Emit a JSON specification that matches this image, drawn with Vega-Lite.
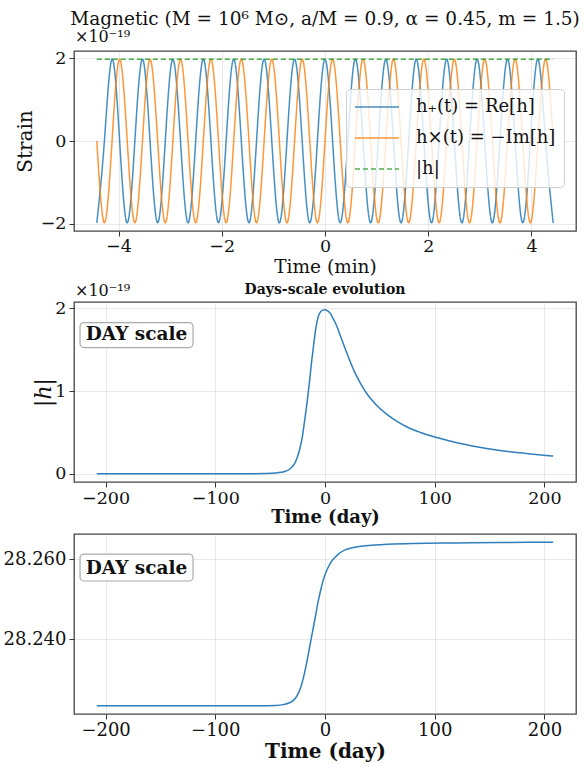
{
  "$schema": "https://vega.github.io/schema/vega-lite/v6.json",
  "background": "white",
  "padding": {"left": 2, "right": 5, "top": 8, "bottom": 2},
  "spacing": 5,
  "config": {
    "font": "DejaVu Serif",
    "view": {"stroke": "#444", "strokeWidth": 1.3},
    "axis": {
      "domain": false,
      "grid": true,
      "gridColor": "#b0b0b0",
      "gridOpacity": 0.35,
      "gridWidth": 0.8,
      "tickColor": "#333",
      "tickSize": 5,
      "tickWidth": 1,
      "labelFont": "DejaVu Serif",
      "titleFont": "DejaVu Serif",
      "labelColor": "#111",
      "titleColor": "#111",
      "titleFontWeight": "normal",
      "labelFlush": false,
      "labelOverlap": false
    },
    "title": {"font": "DejaVu Serif", "color": "#111"}
  },
  "datasets": {
    "wave": [
      {"t": -4.42, "hp": -1.98, "hx": 0},
      {"t": -4.273, "hp": 0, "hx": -1.98},
      {"t": -4.125, "hp": 1.98, "hx": 0},
      {"t": -3.978, "hp": 0, "hx": 1.98},
      {"t": -3.831, "hp": -1.98, "hx": 0},
      {"t": -3.683, "hp": 0, "hx": -1.98},
      {"t": -3.536, "hp": 1.98, "hx": 0},
      {"t": -3.389, "hp": 0, "hx": 1.98},
      {"t": -3.241, "hp": -1.98, "hx": 0},
      {"t": -3.094, "hp": 0, "hx": -1.98},
      {"t": -2.947, "hp": 1.98, "hx": 0},
      {"t": -2.799, "hp": 0, "hx": 1.98},
      {"t": -2.652, "hp": -1.98, "hx": 0},
      {"t": -2.505, "hp": 0, "hx": -1.98},
      {"t": -2.357, "hp": 1.98, "hx": 0},
      {"t": -2.21, "hp": 0, "hx": 1.98},
      {"t": -2.063, "hp": -1.98, "hx": 0},
      {"t": -1.915, "hp": 0, "hx": -1.98},
      {"t": -1.768, "hp": 1.98, "hx": 0},
      {"t": -1.621, "hp": 0, "hx": 1.98},
      {"t": -1.473, "hp": -1.98, "hx": 0},
      {"t": -1.326, "hp": 0, "hx": -1.98},
      {"t": -1.179, "hp": 1.98, "hx": 0},
      {"t": -1.031, "hp": 0, "hx": 1.98},
      {"t": -0.884, "hp": -1.98, "hx": 0},
      {"t": -0.737, "hp": 0, "hx": -1.98},
      {"t": -0.589, "hp": 1.98, "hx": 0},
      {"t": -0.442, "hp": 0, "hx": 1.98},
      {"t": -0.295, "hp": -1.98, "hx": 0},
      {"t": -0.147, "hp": 0, "hx": -1.98},
      {"t": 0, "hp": 1.98, "hx": 0},
      {"t": 0.147, "hp": 0, "hx": 1.98},
      {"t": 0.295, "hp": -1.98, "hx": 0},
      {"t": 0.442, "hp": 0, "hx": -1.98},
      {"t": 0.589, "hp": 1.98, "hx": 0},
      {"t": 0.737, "hp": 0, "hx": 1.98},
      {"t": 0.884, "hp": -1.98, "hx": 0},
      {"t": 1.031, "hp": 0, "hx": -1.98},
      {"t": 1.179, "hp": 1.98, "hx": 0},
      {"t": 1.326, "hp": 0, "hx": 1.98},
      {"t": 1.473, "hp": -1.98, "hx": 0},
      {"t": 1.621, "hp": 0, "hx": -1.98},
      {"t": 1.768, "hp": 1.98, "hx": 0},
      {"t": 1.915, "hp": 0, "hx": 1.98},
      {"t": 2.063, "hp": -1.98, "hx": 0},
      {"t": 2.21, "hp": 0, "hx": -1.98},
      {"t": 2.357, "hp": 1.98, "hx": 0},
      {"t": 2.505, "hp": 0, "hx": 1.98},
      {"t": 2.652, "hp": -1.98, "hx": 0},
      {"t": 2.799, "hp": 0, "hx": -1.98},
      {"t": 2.947, "hp": 1.98, "hx": 0},
      {"t": 3.094, "hp": 0, "hx": 1.98},
      {"t": 3.241, "hp": -1.98, "hx": 0},
      {"t": 3.389, "hp": 0, "hx": -1.98},
      {"t": 3.536, "hp": 1.98, "hx": 0},
      {"t": 3.683, "hp": 0, "hx": 1.98},
      {"t": 3.831, "hp": -1.98, "hx": 0},
      {"t": 3.978, "hp": 0, "hx": -1.98},
      {"t": 4.125, "hp": 1.98, "hx": 0},
      {"t": 4.273, "hp": 0, "hx": 1.98},
      {"t": 4.42, "hp": -1.98, "hx": 0}
    ],
    "envelope": [
      {"t": -4.42, "a": 1.98},
      {"t": 4.42, "a": 1.98}
    ],
    "days": [
      {"t": -208, "h": 0},
      {"t": -150, "h": 0},
      {"t": -100, "h": 0},
      {"t": -70, "h": 0.001},
      {"t": -55, "h": 0.004},
      {"t": -45, "h": 0.01},
      {"t": -40, "h": 0.018},
      {"t": -35, "h": 0.035},
      {"t": -31, "h": 0.07},
      {"t": -27.5, "h": 0.13},
      {"t": -25, "h": 0.21},
      {"t": -23, "h": 0.3},
      {"t": -20.5, "h": 0.46},
      {"t": -18.5, "h": 0.65},
      {"t": -16, "h": 0.9},
      {"t": -14, "h": 1.13},
      {"t": -12, "h": 1.38},
      {"t": -10, "h": 1.6},
      {"t": -8, "h": 1.79},
      {"t": -6, "h": 1.91},
      {"t": -4, "h": 1.96},
      {"t": -2, "h": 1.98},
      {"t": 0, "h": 1.985},
      {"t": 2, "h": 1.975},
      {"t": 4.3, "h": 1.95},
      {"t": 7, "h": 1.89},
      {"t": 10.3, "h": 1.8},
      {"t": 14, "h": 1.67},
      {"t": 17.9, "h": 1.53},
      {"t": 22, "h": 1.39},
      {"t": 27, "h": 1.23},
      {"t": 33, "h": 1.08},
      {"t": 39.2, "h": 0.95},
      {"t": 47, "h": 0.83},
      {"t": 57.4, "h": 0.71},
      {"t": 66, "h": 0.63},
      {"t": 75.7, "h": 0.56},
      {"t": 87, "h": 0.5},
      {"t": 100, "h": 0.445},
      {"t": 113, "h": 0.4},
      {"t": 127, "h": 0.357},
      {"t": 142, "h": 0.318},
      {"t": 158, "h": 0.284},
      {"t": 175, "h": 0.257},
      {"t": 192, "h": 0.235},
      {"t": 208, "h": 0.215}
    ],
    "phase": [
      {"t": -208, "p": 28.2233},
      {"t": -100, "p": 28.2233},
      {"t": -60, "p": 28.2233},
      {"t": -45, "p": 28.2234},
      {"t": -38, "p": 28.2236},
      {"t": -33, "p": 28.224},
      {"t": -30, "p": 28.2244},
      {"t": -27, "p": 28.2252},
      {"t": -24.6, "p": 28.2263},
      {"t": -22, "p": 28.228},
      {"t": -20, "p": 28.23},
      {"t": -17.5, "p": 28.233},
      {"t": -15.5, "p": 28.2358},
      {"t": -13, "p": 28.2395},
      {"t": -10.9, "p": 28.2425},
      {"t": -8.5, "p": 28.246},
      {"t": -6.4, "p": 28.2492},
      {"t": -4, "p": 28.2522},
      {"t": -1.8, "p": 28.2546},
      {"t": 0.5, "p": 28.2565},
      {"t": 2.7, "p": 28.2579},
      {"t": 5.5, "p": 28.2593},
      {"t": 8.8, "p": 28.2604},
      {"t": 13, "p": 28.2615},
      {"t": 17.9, "p": 28.2623},
      {"t": 25, "p": 28.2629},
      {"t": 33, "p": 28.2633},
      {"t": 45, "p": 28.2636},
      {"t": 57, "p": 28.2638},
      {"t": 80, "p": 28.264},
      {"t": 120, "p": 28.2641},
      {"t": 160, "p": 28.2642},
      {"t": 208, "p": 28.2643}
    ],
    "labels": [
      {"offset": "×10⁻¹⁹", "box": "DAY scale"}
    ]
  },
  "vconcat": [
    {
      "width": 502,
      "height": 180,
      "title": {
        "text": "Magnetic (M = 10⁶ M⊙, a/M = 0.9, α = 0.45, m = 1.5)",
        "fontSize": 18.5,
        "fontWeight": "normal",
        "frame": "group",
        "anchor": "middle",
        "offset": 1
      },
      "layer": [
        {
          "data": {"name": "wave"},
          "mark": {"type": "line", "interpolate": "natural", "strokeWidth": 1.5, "opacity": 0.82, "clip": true},
          "encoding": {
            "x": {
              "field": "t", "type": "quantitative",
              "scale": {"domain": [-4.862, 4.862], "nice": false, "zero": false},
              "axis": {"values": [-4, -2, 0, 2, 4], "title": "Time (min)", "labelFontSize": 17.5, "titleFontSize": 18.5, "labelPadding": 1, "titlePadding": 3}
            },
            "y": {
              "field": "hp", "type": "quantitative",
              "scale": {"domain": [-2.178, 2.178], "nice": false, "zero": false},
              "axis": {"values": [-2, 0, 2], "title": "Strain", "labelFontSize": 17.5, "titleFontSize": 20, "labelPadding": 3, "titlePadding": 5}
            },
            "color": {
              "datum": "h₊(t) = Re[h]", "type": "nominal",
              "scale": {"domain": ["h₊(t) = Re[h]", "h×(t) = −Im[h]", "|h|"], "range": ["#1f77b4", "#ff7f0e", "#2ca02c"]},
              "legend": {"orient": "none", "legendX": 272, "legendY": 38, "title": null, "symbolType": "stroke", "symbolSize": 1936, "clipHeight": 20, "symbolStrokeWidth": 1.5, "symbolOpacity": 0.85, "labelFont": "DejaVu Serif", "labelFontSize": 18, "labelColor": "#111", "labelOffset": 16, "padding": 8, "rowPadding": 11, "fillColor": "rgba(255,255,255,0.8)", "strokeColor": "#d0d0d0", "cornerRadius": 4}
            },
            "strokeDash": {
              "datum": "h₊(t) = Re[h]", "type": "nominal",
              "scale": {"domain": ["h₊(t) = Re[h]", "h×(t) = −Im[h]", "|h|"], "range": [[1, 0], [1, 0], [5, 3]]},
              "legend": {"orient": "none", "legendX": 272, "legendY": 38, "title": null, "symbolType": "stroke", "symbolSize": 1936, "clipHeight": 20, "symbolStrokeWidth": 1.5, "symbolOpacity": 0.85, "labelFont": "DejaVu Serif", "labelFontSize": 18, "labelColor": "#111", "labelOffset": 16, "padding": 8, "rowPadding": 11, "fillColor": "rgba(255,255,255,0.8)", "strokeColor": "#d0d0d0", "cornerRadius": 4}
            }
          }
        },
        {
          "data": {"name": "wave"},
          "mark": {"type": "line", "interpolate": "natural", "strokeWidth": 1.5, "opacity": 0.82, "clip": true},
          "encoding": {
            "x": {"field": "t", "type": "quantitative"},
            "y": {"field": "hx", "type": "quantitative"},
            "color": {"datum": "h×(t) = −Im[h]", "type": "nominal"},
            "strokeDash": {"datum": "h×(t) = −Im[h]", "type": "nominal"}
          }
        },
        {
          "data": {"name": "envelope"},
          "mark": {"type": "line", "strokeWidth": 1.5, "opacity": 0.85},
          "encoding": {
            "x": {"field": "t", "type": "quantitative"},
            "y": {"field": "a", "type": "quantitative"},
            "color": {"datum": "|h|", "type": "nominal"},
            "strokeDash": {"datum": "|h|", "type": "nominal"}
          }
        },
        {
          "data": {"name": "labels"},
          "mark": {"type": "text", "align": "left", "baseline": "alphabetic", "fontSize": 16, "dx": 1, "dy": -9, "color": "#111"},
          "encoding": {
            "x": {"datum": -4.862, "type": "quantitative"},
            "y": {"datum": 2.178, "type": "quantitative"},
            "text": {"field": "offset"}
          }
        }
      ]
    },
    {
      "width": 502,
      "height": 180,
      "title": {
        "text": "Days-scale evolution",
        "fontSize": 14,
        "fontWeight": "bold",
        "frame": "group",
        "anchor": "middle",
        "offset": -14
      },
      "layer": [
        {
          "data": {"name": "days"},
          "mark": {"type": "line", "interpolate": "monotone", "strokeWidth": 1.5, "color": "#2f7fbc"},
          "encoding": {
            "x": {
              "field": "t", "type": "quantitative",
              "scale": {"domain": [-228.8, 228.8], "nice": false, "zero": false},
              "axis": {"values": [-200, -100, 0, 100, 200], "title": "Time (day)", "titleFontWeight": "bold", "labelFontSize": 17.5, "titleFontSize": 18, "labelPadding": 2, "titlePadding": 2}
            },
            "y": {
              "field": "h", "type": "quantitative",
              "scale": {"domain": [-0.099, 2.0785], "nice": false, "zero": false},
              "axis": {"values": [0, 1, 2], "format": "d", "title": "|h|", "titleFontStyle": "italic", "labelFontSize": 17.5, "titleFontSize": 22, "labelPadding": 3, "titlePadding": -1}
            }
          }
        },
        {
          "data": {"name": "labels"},
          "mark": {"type": "rect", "fill": "white", "stroke": "#aaaaaa", "strokeWidth": 1.2, "cornerRadius": 4},
          "encoding": {
            "x": {"datum": -223.3, "type": "quantitative"},
            "x2": {"datum": -120.3},
            "y": {"datum": 1.829, "type": "quantitative"},
            "y2": {"datum": 1.527}
          }
        },
        {
          "data": {"name": "labels"},
          "mark": {"type": "text", "align": "center", "baseline": "middle", "fontSize": 18.5, "fontWeight": "bold", "color": "#111"},
          "encoding": {
            "x": {"datum": -171.8, "type": "quantitative"},
            "y": {"datum": 1.686, "type": "quantitative"},
            "text": {"field": "box"}
          }
        },
        {
          "data": {"name": "labels"},
          "mark": {"type": "text", "align": "left", "baseline": "alphabetic", "fontSize": 16, "dx": 1, "dy": -6, "color": "#111"},
          "encoding": {
            "x": {"datum": -228.8, "type": "quantitative"},
            "y": {"datum": 2.0785, "type": "quantitative"},
            "text": {"field": "offset"}
          }
        }
      ]
    },
    {
      "width": 502,
      "height": 180,
      "layer": [
        {
          "data": {"name": "phase"},
          "mark": {"type": "line", "interpolate": "monotone", "strokeWidth": 1.5, "color": "#2f7fbc"},
          "encoding": {
            "x": {
              "field": "t", "type": "quantitative",
              "scale": {"domain": [-228.8, 228.8], "nice": false, "zero": false},
              "axis": {"values": [-200, -100, 0, 100, 200], "title": "Time (day)", "titleFontWeight": "bold", "labelFontSize": 18, "titleFontSize": 20, "labelPadding": 2, "titlePadding": 2}
            },
            "y": {
              "field": "p", "type": "quantitative",
              "scale": {"domain": [28.22125, 28.26635], "nice": false, "zero": false},
              "axis": {"values": [28.24, 28.26], "format": ".3f", "title": null, "labelFontSize": 18, "labelPadding": 3}
            }
          }
        },
        {
          "data": {"name": "labels"},
          "mark": {"type": "rect", "fill": "white", "stroke": "#aaaaaa", "strokeWidth": 1.2, "cornerRadius": 4},
          "encoding": {
            "x": {"datum": -223.3, "type": "quantitative"},
            "x2": {"datum": -120.3},
            "y": {"datum": 28.26133, "type": "quantitative"},
            "y2": {"datum": 28.25458}
          }
        },
        {
          "data": {"name": "labels"},
          "mark": {"type": "text", "align": "center", "baseline": "middle", "fontSize": 18.5, "fontWeight": "bold", "color": "#111"},
          "encoding": {
            "x": {"datum": -171.8, "type": "quantitative"},
            "y": {"datum": 28.25795, "type": "quantitative"},
            "text": {"field": "box"}
          }
        }
      ]
    }
  ]
}
